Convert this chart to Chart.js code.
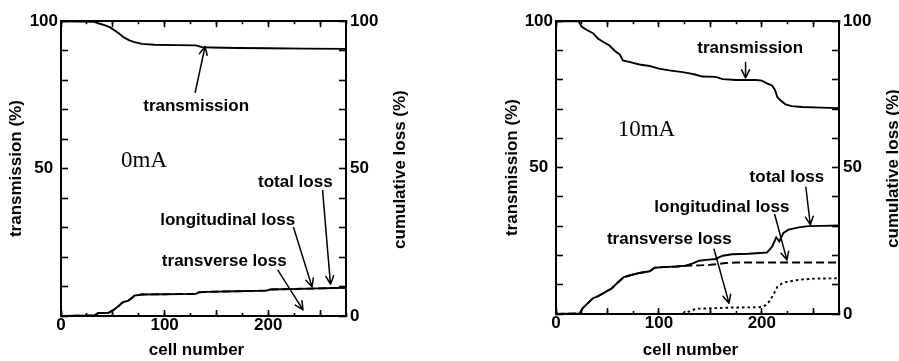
<!DOCTYPE html>
<html><head><meta charset="utf-8">
<script src="https://cdn.jsdelivr.net/npm/chart.js@4.4.1/dist/chart.umd.min.js"></script>
<style>
html,body{margin:0;padding:0;background:#fff;}
#wrap{position:relative;width:899px;height:361px;overflow:hidden;background:#fff;}
canvas{position:absolute;top:0;}
#c0{left:0;} #c1{left:450px;}
</style></head><body>
<div id="wrap"><canvas id="c0" width="450" height="361"></canvas><canvas id="c1" width="449" height="361"></canvas></div>
<script>
// ---- tick labels ----
const xTickLabels = [0, 100, 200];
const yTickLabelsLeft = [50, 100];
const yTickLabelsRight = [0, 50, 100];

// ---- 0 mA panel ----
const cells0T = [0, 32, 36, 42, 47, 52, 56, 61, 66, 70, 78, 90, 110, 130, 136, 145, 170, 200, 235, 275];
const trans0  = [100, 99.8, 99.3, 98.7, 98.0, 96.8, 95.8, 94.4, 93.5, 93.0, 92.3, 92.0, 91.9, 91.8, 91.2, 91.1, 90.9, 90.8, 90.7, 90.6];
const cells0L = [0, 32, 36, 46, 50, 55, 60, 65, 71, 78, 100, 130, 133, 140, 170, 198, 202, 240, 275];
const total0  = [0, 0.2, 1.0, 1.1, 1.9, 3.2, 4.7, 5.2, 6.9, 7.3, 7.4, 7.5, 8.0, 8.2, 8.4, 8.6, 9.0, 9.3, 9.6];
const long0   = [0, 0.2, 1.0, 1.1, 1.9, 3.2, 4.7, 5.2, 6.9, 7.3, 7.4, 7.5, 8.0, 8.2, 8.4, 8.6, 9.0, 9.3, 9.6];
const cells0V = [0, 275];
const transv0 = [0, 0];

// ---- 10 mA panel ----
const cells10T = [0, 22, 25, 30, 36, 41, 46, 52, 57, 62, 65, 72, 81, 91, 100, 110, 123, 130, 136, 142, 155, 162, 175, 194, 200, 205, 210, 213, 215, 218, 223, 229, 239, 258, 275];
const trans10  = [100, 100, 98.1, 97.0, 95.9, 94.0, 92.9, 91.7, 89.9, 88.6, 86.6, 86.0, 85.2, 84.7, 83.8, 83.2, 82.6, 82.2, 81.7, 81.1, 81.0, 80.2, 79.9, 79.9, 79.7, 78.8, 78.0, 76.4, 74.1, 73.0, 71.6, 71.0, 70.7, 70.5, 70.3];
const cells10L = [0, 23, 26, 31, 36, 41, 47, 54, 59, 63, 66, 75, 81, 91, 96, 104, 117, 126, 133, 139, 146, 155, 162, 171, 187, 205, 210, 214, 217, 221, 226, 236, 245, 258, 275];
const total10  = [0, 0.2, 2.0, 3.7, 5.4, 6.1, 7.3, 8.7, 10.4, 11.7, 12.6, 13.5, 14.0, 14.6, 15.8, 16.0, 16.2, 16.5, 17.3, 18.2, 18.5, 18.8, 19.9, 20.4, 20.6, 21.0, 23.0, 26.2, 24.8, 27.7, 28.8, 29.6, 30.0, 30.1, 30.2];
const cells10G = [0, 23, 26, 31, 36, 41, 47, 54, 59, 63, 66, 75, 81, 91, 96, 104, 117, 126, 140, 150, 158, 165, 175, 275];
const long10   = [0, 0.2, 2.0, 3.7, 5.4, 6.1, 7.3, 8.7, 10.4, 11.7, 12.6, 13.5, 14.0, 14.6, 15.8, 16.0, 16.2, 16.5, 16.6, 16.8, 17.1, 17.4, 17.6, 17.6];
const cells10V = [0, 122, 126, 131, 136, 155, 171, 197, 201, 204, 207, 210, 213, 215, 219, 223, 236, 252, 275];
const transv10 = [0, 0, 0.3, 1.1, 1.8, 2.0, 2.2, 2.3, 2.5, 3.1, 4.2, 5.9, 7.8, 9.3, 10.3, 10.9, 11.7, 12.1, 12.2];

const pts = (xs, ys) => xs.map((x, i) => ({x: x, y: ys[i]}));
const SANS = '"Liberation Sans", Arial, sans-serif';
const FONT = {family: SANS, size: 17, weight: 'bold', lineHeight: 1.2};

const annotPlugin = {
  id: 'annot',
  afterDraw(chart, args, opts) {
    const ctx = chart.ctx, xs = chart.scales.x, ys = chart.scales.y, ca = chart.chartArea;
    const px = v => xs.getPixelForValue(v), py = v => ys.getPixelForValue(v);
    ctx.save();
    ctx.fillStyle = '#000'; ctx.strokeStyle = '#000';
    ctx.font = 'bold 17px ' + SANS;
    ctx.textAlign = 'center'; ctx.textBaseline = 'middle';
    ctx.fillText(opts.bottomTitle, (ca.left + ca.right) / 2 - 7, chart.height - 10.5);
    ctx.save();
    ctx.translate(ca.right + 54, (ca.top + ca.bottom) / 2 + 1);
    ctx.rotate(-Math.PI / 2);
    ctx.fillText(opts.rightTitle, 0, 0);
    ctx.restore();
    for (const t of opts.texts) {
      ctx.font = t.serif ? '23px "Liberation Serif", "Times New Roman", serif' : 'bold 17px ' + SANS;
      ctx.textAlign = 'center'; ctx.textBaseline = 'middle';
      ctx.fillText(t.text, px(t.x), py(t.y));
    }
    ctx.lineWidth = 1.5; ctx.lineCap = 'round'; ctx.lineJoin = 'round';
    for (const a of opts.arrows) {
      const x1 = px(a.from[0]), y1 = py(a.from[1]), x2 = px(a.to[0]), y2 = py(a.to[1]);
      const ang = Math.atan2(y2 - y1, x2 - x1), L = 9, h = 0.45;
      ctx.beginPath();
      ctx.moveTo(x1, y1); ctx.lineTo(x2, y2);
      ctx.moveTo(x2 - L * Math.cos(ang - h), y2 - L * Math.sin(ang - h));
      ctx.lineTo(x2, y2);
      ctx.lineTo(x2 - L * Math.cos(ang + h), y2 - L * Math.sin(ang + h));
      ctx.stroke();
    }
    ctx.restore();
  }
};

function tickAxis(pos, weight, step, len) {
  return {
    type: 'linear', position: pos, weight: weight, min: 0, max: 275, axis: 'x',
    grid: {drawOnChartArea: false, tickColor: '#000', tickWidth: 1.6, tickLength: len},
    border: {color: '#000', width: 2},
    ticks: {display: false, stepSize: step, includeBounds: false, autoSkip: false},
    afterFit: s => { s.height = 0; }
  };
}

function makeChart(id, cfg) {
  const ds = (data, dash, w) => ({
    data: data, borderColor: '#000', borderWidth: w || 1.9, borderDash: dash || [],
    pointRadius: 0, fill: false, tension: 0, xAxisID: 'x', yAxisID: 'y'
  });
  return new Chart(document.getElementById(id), {
    type: 'line',
    data: {
      datasets: [
        ds(pts(cfg.totX, cfg.tot)),
        ds(pts(cfg.trX, cfg.tr)),
        ds(pts(cfg.lgX, cfg.lg), [8, 4]),
        ds(pts(cfg.tvX, cfg.tv), [2.5, 3])
      ]
    },
    options: {
      responsive: false, animation: false, devicePixelRatio: 1,
      layout: {padding: {top: 16, left: 0, right: 0, bottom: 0}},
      plugins: {legend: {display: false}, tooltip: {enabled: false}, annot: cfg.annot},
      scales: {
        x: {
          type: 'linear', position: 'bottom', weight: 1, min: 0, max: 275,
          grid: {drawOnChartArea: false, tickColor: '#000', tickWidth: 1.6, tickLength: -6},
          border: {color: '#000', width: 2},
          ticks: {stepSize: 50, includeBounds: false, autoSkip: false, maxRotation: 0, padding: 5,
                  font: FONT, color: '#000',
                  callback: v => xTickLabels.includes(v) ? String(v) : ''},
          title: {display: false},
          afterFit: s => { s.height = cfg.xH; }
        },
        xm: tickAxis('bottom', 0, 25, -3),
        xt: tickAxis('top', 1, 50, -6),
        xtm: tickAxis('top', 0, 25, -3),
        y: {
          type: 'linear', position: 'left', min: 0, max: 100,
          grid: {drawOnChartArea: false, tickColor: '#000', tickWidth: 1.6, tickLength: -7},
          border: {color: '#000', width: 2},
          ticks: {stepSize: 10, autoSkip: false, padding: 10, crossAlign: 'center', font: FONT, color: '#000',
                  callback: v => yTickLabelsLeft.includes(v) ? String(v) : ''},
          title: {display: true, text: 'transmission (%)', font: FONT, color: '#000', padding: {top: cfg.yTitlePad, bottom: 0}},
          afterFit: s => { s.width = cfg.yW; }
        },
        y2: {
          type: 'linear', position: 'right', min: 0, max: 100,
          grid: {drawOnChartArea: false, tickColor: '#000', tickWidth: 1.6, tickLength: -7},
          border: {color: '#000', width: 2},
          ticks: {stepSize: 10, autoSkip: false, padding: 11, font: FONT, color: '#000',
                  callback: v => yTickLabelsRight.includes(v) ? String(v) : ''},
          afterFit: s => { s.width = cfg.y2W; }
        }
      }
    },
    plugins: [annotPlugin]
  });
}

makeChart('c0', {
  totX: cells0L, tot: total0, trX: cells0T, tr: trans0, lgX: cells0L, lg: long0, tvX: cells0V, tv: transv0,
  xH: 45, yW: 61, y2W: 104, yTitlePad: 6.5,
  annot: {
    bottomTitle: 'cell number',
    rightTitle: 'cumulative loss (%)',
    texts: [
      {text: 'transmission', x: 130.4, y: 71.2},
      {text: '0mA', x: 80.2, y: 52.7, serif: true},
      {text: 'total loss', x: 226.1, y: 45.3},
      {text: 'longitudinal loss', x: 160.9, y: 32.5},
      {text: 'transverse loss', x: 157.5, y: 18.7}
    ],
    arrows: [
      {from: [129.5, 75.9], to: [139, 91.4]},
      {from: [252.4, 42.6], to: [260, 10.8]},
      {from: [224.4, 30.0], to: [242.2, 9.9]},
      {from: [209.4, 15.5], to: [233.5, 2.1]}
    ]
  }
});

makeChart('c1', {
  totX: cells10L, tot: total10, trX: cells10T, tr: trans10, lgX: cells10G, lg: long10, tvX: cells10V, tv: transv10,
  xH: 47, yW: 106, y2W: 60, yTitlePad: 52.3,
  annot: {
    bottomTitle: 'cell number',
    rightTitle: 'cumulative loss (%)',
    texts: [
      {text: 'transmission', x: 188.7, y: 90.8},
      {text: '10mA', x: 87.9, y: 62.9, serif: true},
      {text: 'total loss', x: 224.4, y: 46.7},
      {text: 'longitudinal loss', x: 161.2, y: 36.6},
      {text: 'transverse loss', x: 110.1, y: 25.5}
    ],
    arrows: [
      {from: [184.2, 85.9], to: [184.2, 80.6]},
      {from: [242.8, 43.3], to: [247.1, 30.5]},
      {from: [212.6, 33.9], to: [224.4, 18.4]},
      {from: [153.6, 22.1], to: [168.1, 3.7]}
    ]
  }
});
</script>
</body></html>
